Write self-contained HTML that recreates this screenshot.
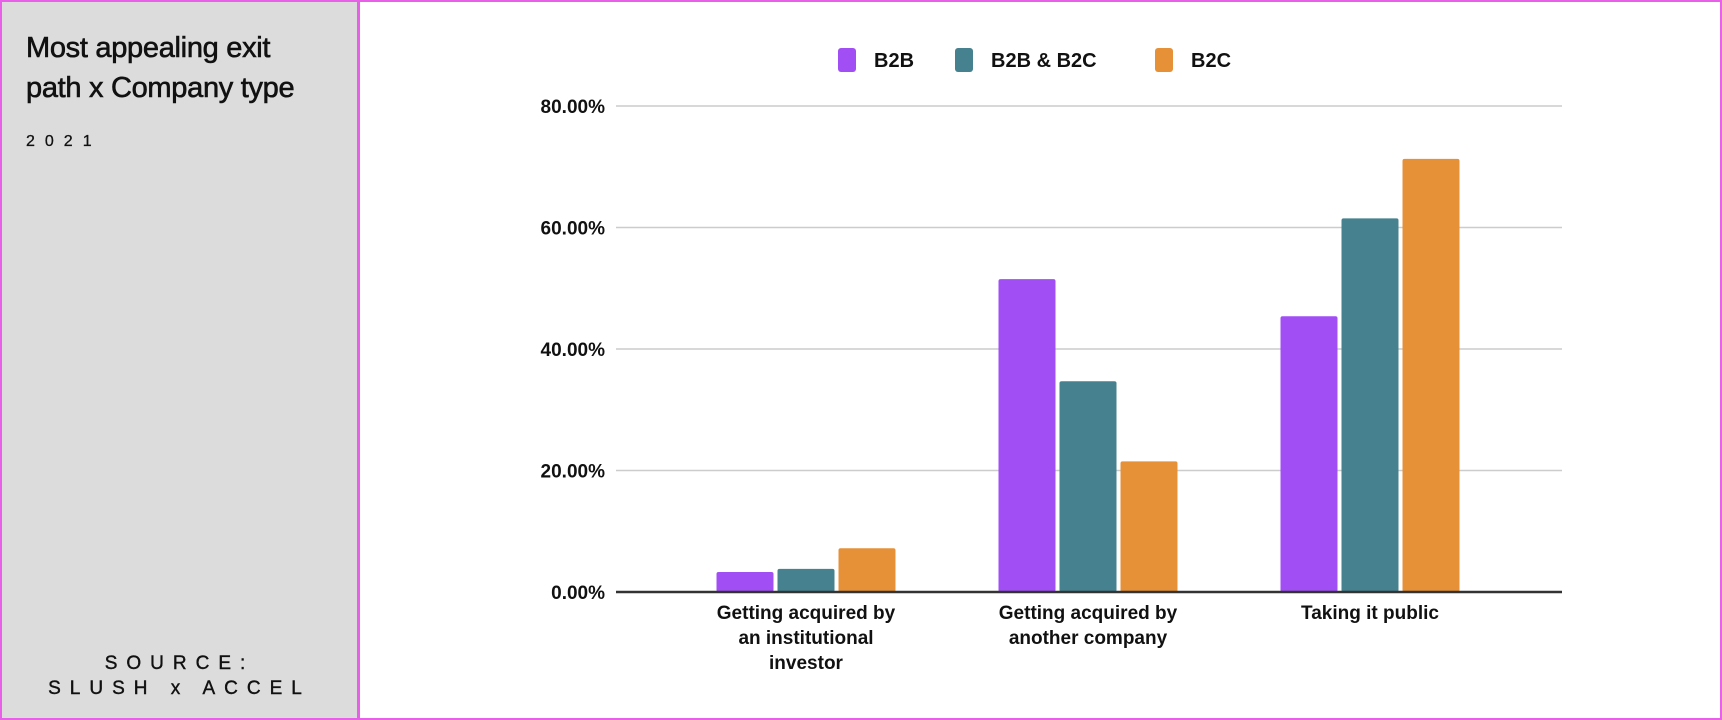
<!DOCTYPE html>
<html><head><meta charset="utf-8"><style>
html,body{margin:0;padding:0;background:#fff}
body{width:1722px;height:720px;position:relative;overflow:hidden;font-family:"Liberation Sans",sans-serif}
#frame{position:absolute;left:0;top:0;width:1718px;height:716px;border:2px solid #e85fe8}
#side{position:absolute;left:2px;top:2px;width:355px;height:716px;background:#dcdcdc;border-right:3px solid #e85fe8}
.t{position:absolute;color:#111}
svg text{-webkit-text-stroke:0.5px #111}
</style></head><body>
<div id="frame"></div>
<div id="side"></div>
<div class="t" style="left:26px;top:28px;font-size:29px;line-height:40px;-webkit-text-stroke:0.6px #111;letter-spacing:-0.3px">Most appealing exit<br>path x Company type</div>
<div class="t" style="left:26px;top:133px;font-size:16px;letter-spacing:10px;-webkit-text-stroke:0.3px #111">2021</div>
<div class="t" style="left:2px;width:355px;top:651px;font-size:19px;letter-spacing:9px;text-align:center;line-height:25px;-webkit-text-stroke:0.4px #111">SOURCE:<br>SLUSH x ACCEL</div>
<svg id="chart" width="1722" height="720" style="position:absolute;left:0;top:0"></svg>
<script>
const categories=[["Getting acquired by","an institutional","investor"],["Getting acquired by","another company"],["Taking it public"]];
const seriesNames=["B2B","B2B & B2C","B2C"];
const b2b=[3.3,51.5,45.4];
const b2bb2c=[3.8,34.7,61.5];
const b2c=[7.2,21.5,71.3];
const ticks=[0,20,40,60,80];
const tickLabels=["0.00%","20.00%","40.00%","60.00%","80.00%"];
const colors=["#a14ff5","#45818e","#e69138"];
const series=[b2b,b2bb2c,b2c];
const NS="http://www.w3.org/2000/svg";
const svg=document.getElementById('chart');
const x0=616,x1=1562,y0=592,y80=106;
const y=v=>y0-(v/80)*(y0-y80);
const cx=i=>806+i*282;
function mk(t,a,p){const e=document.createElementNS(NS,t);for(const k in a)e.setAttribute(k,a[k]);(p||svg).appendChild(e);return e;}
ticks.forEach((t,i)=>{
  if(t>0){const l=mk('line',{x1:x0,x2:x1,y1:y(t),y2:y(t),stroke:'#cccccc','stroke-width':1.5});
  
  }
  const tx=mk('text',{x:605,y:y(t)+7,'text-anchor':'end','font-size':19,'font-weight':'bold',fill:'#111'});
  tx.textContent=tickLabels[i];
  
  
});
const bw=57,gap=4;
series.forEach((s,si)=>{
  s.forEach((v,ci)=>{
    const bx=cx(ci)+(si-1)*(bw+gap)-bw/2;
    const r=mk('rect',{x:bx,y:y(v),width:bw,height:y0-y(v),fill:colors[si],rx:2});
    
    
  });
});
const base=mk('line',{x1:x0,x2:x1,y1:y0,y2:y0,stroke:'#333','stroke-width':2.5});


categories.forEach((lines,ci)=>{
  lines.forEach((ln,li)=>{
    const t=mk('text',{x:cx(ci),y:619+li*25,'text-anchor':'middle','font-size':19,'font-weight':'bold',fill:'#111'});
    t.textContent=ln;
    
    
  });
});
const legX=[838,955,1155];
seriesNames.forEach((n,i)=>{
  const r=mk('rect',{x:legX[i],y:48,width:18,height:24,rx:3,fill:colors[i]});
  
  
  const t=mk('text',{x:legX[i]+36,y:67,'font-size':20,'font-weight':'bold',fill:'#111'});
  t.textContent=n;
  
  
});
</script>
</body></html>
